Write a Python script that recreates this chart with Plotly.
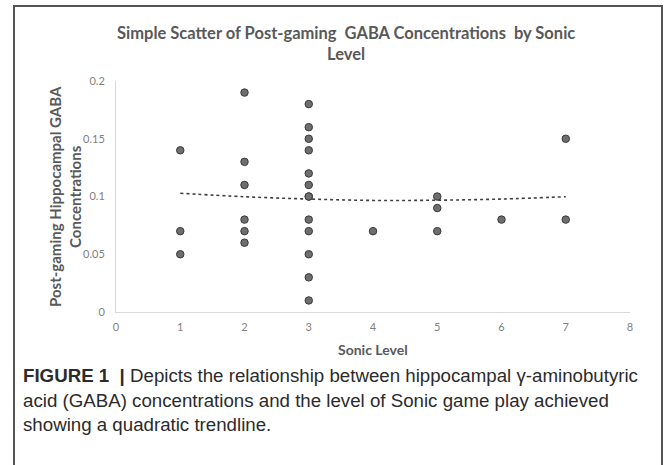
import plotly.graph_objects as go

# Data
sonic_level = [1, 1, 1,
               2, 2, 2, 2, 2, 2,
               3, 3, 3, 3, 3, 3, 3, 3, 3, 3, 3, 3, 3,
               4,
               5, 5, 5,
               6,
               7, 7]
gaba_post = [0.14, 0.07, 0.05,
             0.19, 0.13, 0.11, 0.08, 0.07, 0.06,
             0.18, 0.16, 0.15, 0.14, 0.12, 0.11, 0.10, 0.10, 0.08, 0.07, 0.05, 0.03, 0.01,
             0.07,
             0.10, 0.09, 0.07,
             0.08,
             0.15, 0.08]
# Quadratic trendline, values at each level
trend_x = [1, 2, 3, 4, 5, 6, 7]
trend_y = [0.1028, 0.0998, 0.0978, 0.0966, 0.0968, 0.0978, 0.0998]

x_ticks = [0, 1, 2, 3, 4, 5, 6, 7, 8]
y_ticks = [0, 0.05, 0.1, 0.15, 0.2]
y_tick_labels = ["0", "0.05", "0.1", "0.15", "0.2"]

W, H = 667, 465
# plot area in page pixels
X0, X1, Y0, Y1 = 116, 630, 81, 312
L, R, T, B = X0, W - X1, Y0, H - Y1
pw, ph = X1 - X0, Y1 - Y0

def px(x):
    return (x - X0) / pw

def py(y):
    return (Y1 - y) / ph

chart_font = "Lato, 'Open Sans', sans-serif"
gray = "#595959"

fig = go.Figure()
fig.add_trace(go.Scatter(
    x=trend_x, y=trend_y, mode="lines",
    line=dict(color="#404040", width=1.6, dash="dot", shape="spline"),
    hoverinfo="skip", showlegend=False))
fig.add_trace(go.Scatter(
    x=sonic_level, y=gaba_post, mode="markers",
    marker=dict(size=7.5, color="#6e6e6e", line=dict(color="#3a3a3a", width=1)),
    showlegend=False))

fig.update_layout(
    width=W, height=H,
    margin=dict(l=L, r=R, t=T, b=B, pad=0),
    paper_bgcolor="white", plot_bgcolor="white",
    font=dict(family=chart_font, color=gray),
    xaxis=dict(range=[0, 8], tickvals=x_ticks, showgrid=False, zeroline=False,
               showline=True, linecolor="#d9d9d9", linewidth=1,
               ticks="", ticklabelstandoff=5,
               tickfont=dict(size=11, color="#7f7f7f"), fixedrange=True),
    yaxis=dict(range=[0, 0.2], tickvals=y_ticks, ticktext=y_tick_labels,
               showgrid=False, zeroline=False,
               showline=True, linecolor="#d9d9d9", linewidth=1,
               ticks="", ticklabelstandoff=8,
               tickfont=dict(size=11, color="#7f7f7f"), fixedrange=True),
)

annotations = [
    dict(text="<b>Simple Scatter of Post-gaming  GABA Concentrations  by Sonic</b><br><b>Level</b>",
         x=px(346), y=py(44), xref="paper", yref="paper", showarrow=False,
         xanchor="center", yanchor="middle", align="center",
         font=dict(size=16.5, color=gray, family=chart_font)),
    dict(text="<b>Post-gaming Hippocampal GABA</b><br><b>Concentrations</b>",
         x=px(65), y=py(197), xref="paper", yref="paper", showarrow=False,
         textangle=-90, xanchor="center", yanchor="middle", align="center",
         font=dict(size=15, color=gray, family=chart_font)),
    dict(text="<b>Sonic Level</b>",
         x=px(373), y=py(349), xref="paper", yref="paper", showarrow=False,
         xanchor="center", yanchor="middle",
         font=dict(size=14, color=gray, family=chart_font)),
]

caption_lines = [
    "<b>FIGURE 1</b>  <b>|</b> Depicts the relationship between hippocampal γ-aminobutyric",
    "acid (GABA) concentrations and the level of Sonic game play achieved",
    "showing a quadratic trendline.",
]
caption_y = [375, 400, 424]
for line, yy in zip(caption_lines, caption_y):
    annotations.append(dict(
        text=line, x=px(21), y=py(yy), xref="paper", yref="paper", showarrow=False,
        xanchor="left", yanchor="middle", align="left",
        font=dict(size=18.7, color="#2b2b2b", family="'Liberation Sans', Arial, sans-serif")))

fig.update_layout(annotations=annotations)

fig.add_shape(type="rect", xref="paper", yref="paper",
              x0=px(14), x1=px(662), y0=py(H + 20), y1=py(6),
              line=dict(color="#555555", width=2), fillcolor="rgba(0,0,0,0)", layer="above")

fig.write_html(
    "out.html",
    config={"displayModeBar": False},
    post_script="document.body.style.margin='0';document.body.style.overflow='hidden';",
)
